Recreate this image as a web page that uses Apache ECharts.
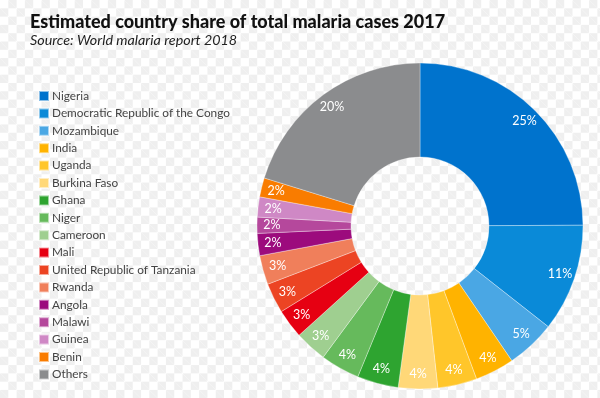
<!DOCTYPE html>
<html>
<head>
<meta charset="utf-8">
<script src="https://cdn.jsdelivr.net/npm/echarts@6/dist/echarts.min.js"></script>
<style>
html, body { margin: 0; padding: 0; }
body {
  width: 600px; height: 398px;
  background-color: #ffffff;
  background-image:
    linear-gradient(45deg, #efefef 25%, transparent 25%, transparent 75%, #efefef 75%),
    linear-gradient(45deg, #efefef 25%, transparent 25%, transparent 75%, #efefef 75%);
  background-size: 16.6px 16.6px;
  background-position: 0 0, 8.3px 8.3px;
}
#chart { width: 600px; height: 398px; }
</style>
</head>
<body>
<div id="chart"></div>
<script>
const countries = ["Nigeria", "Democratic Republic of the Congo", "Mozambique", "India", "Uganda",
  "Burkina Faso", "Ghana", "Niger", "Cameroon", "Mali", "United Republic of Tanzania", "Rwanda",
  "Angola", "Malawi", "Guinea", "Benin", "Others"];
const shares = [25, 10.7, 4.9, 3.9, 3.9, 3.9, 4.1, 3.9, 3.2, 2.9, 3.0, 2.9, 2.2, 1.6, 2.0, 1.9, 20.3];
const colors = ["#0073cd", "#0a8ad8", "#4aa7e4", "#ffb300", "#ffc62a", "#ffd878", "#2ea430",
  "#66ba5c", "#9fcf90", "#e60012", "#ec4423", "#f07f5b", "#9c0b7d", "#b5489c", "#cf88c5",
  "#f97c00", "#8b8c8e"];
const titleText = "Estimated country share of total malaria cases 2017";
const subtitleText = "Source: World malaria report 2018";

const data = countries.map((n, i) => ({ name: n, value: shares[i], itemStyle: { color: colors[i] } }));
const labelData = countries.map((n, i) => ({ name: n, value: shares[i] }));

const chart = echarts.init(document.getElementById('chart'), null, { renderer: 'canvas' });
chart.setOption({
  backgroundColor: 'transparent',
  animation: false,
  title: {
    text: titleText,
    subtext: subtitleText,
    left: 25, top: 8,
    itemGap: 2,
    textStyle: { fontFamily: 'Lato', fontWeight: 900, fontSize: 18, color: '#111' },
    subtextStyle: { fontFamily: 'Lato', fontStyle: 'italic', fontSize: 14.3, color: '#222' }
  },
  legend: {
    orient: 'vertical',
    left: 33, top: 84,
    itemWidth: 10, itemHeight: 10,
    itemGap: 3.4,
    icon: 'rect',
    data: countries,
    textStyle: { fontFamily: 'Lato', fontSize: 11.8, color: '#444', padding: [0, 0, 0, -2], lineHeight: 14 }
  },
  series: [
    {
      type: 'pie',
      center: [420, 226],
      radius: [69, 163],
      startAngle: 90,
      clockwise: true,
      silent: true,
      label: { show: false },
      labelLine: { show: false },
      itemStyle: { borderColor: 'rgba(255,255,255,0.55)', borderWidth: 0.6 },
      data: data
    },
    {
      type: 'pie',
      center: [420, 226],
      radius: [127, 163],
      startAngle: 90,
      clockwise: true,
      silent: true,
      itemStyle: { color: 'rgba(0,0,0,0)', borderWidth: 0 },
      label: {
        show: true, position: 'inside',
        formatter: p => Math.round(p.value) + '%',
        color: '#fff', fontFamily: 'Lato', fontSize: 12.5
      },
      labelLine: { show: false },
      data: labelData
    }
  ]
});
</script>
</body>
</html>
